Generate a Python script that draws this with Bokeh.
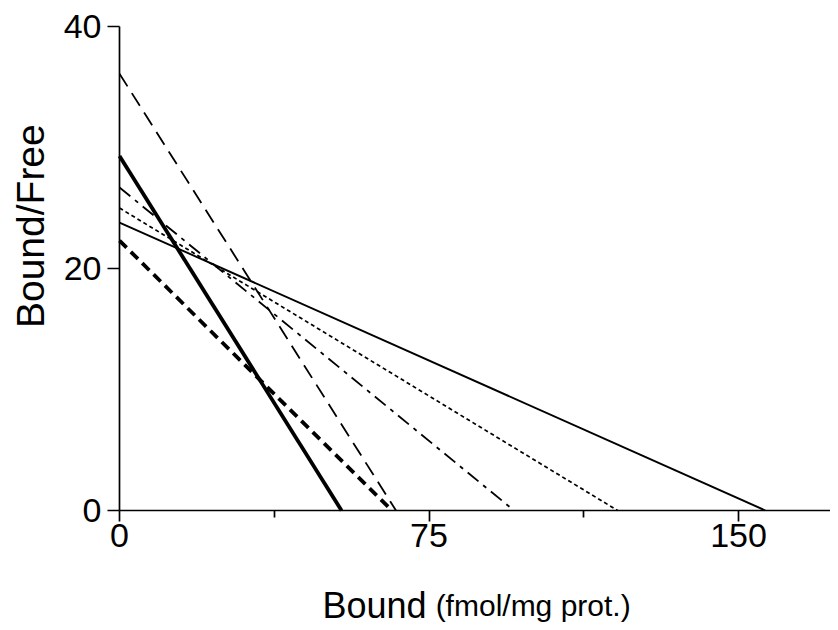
import math
from bokeh.plotting import figure
from bokeh.models import Range1d, FixedTicker, Label, LinearAxis
from bokeh.embed import file_html
from bokeh.resources import INLINE

# Scatchard lines: Bound/Free intercept (y) and Bmax intercept (x)
series = ["thick solid", "long dashed", "thick dashed", "dash-dot", "dotted", "thin solid"]
y_intercepts = [29.3, 36.1, 22.3, 26.7, 25.0, 23.8]
x_intercepts = [53.8, 67.0, 66.0, 95.6, 120.7, 156.5]
x_ticks = [0, 75, 150]
x_minor_ticks = [37.5, 112.5]
y_ticks = [0, 20, 40]

styles = {
    "thick solid": dict(line_width=3.8, line_dash="solid"),
    "long dashed": dict(line_width=1.8, line_dash="15 8"),
    "thick dashed": dict(line_width=3.8, line_dash="10 6"),
    "dash-dot": dict(line_width=1.8, line_dash="14 6 4 6"),
    "dotted": dict(line_width=1.7, line_dash="4 3"),
    "thin solid": dict(line_width=1.9, line_dash="solid"),
}

W, H = 830, 628
X0, Y0 = 119, 510           # pixel position of data origin
SX, SY = 4.127, 12.1        # pixels per data unit
x_rng = Range1d(-X0 / SX, (W - X0) / SX)
y_rng = Range1d(-(H - Y0) / SY, Y0 / SY)

p = figure(width=W, height=H, x_range=x_rng, y_range=y_rng,
           output_backend="svg", toolbar_location=None,
           x_axis_location=None, y_axis_location=None,
           min_border=0, min_border_left=0, min_border_right=0,
           min_border_top=0, min_border_bottom=0)
p.outline_line_color = None
p.xgrid.visible = False
p.ygrid.visible = False
p.background_fill_color = "white"
p.border_fill_color = "white"

for name, yi, xi in zip(series, y_intercepts, x_intercepts):
    p.line(x=[0, xi], y=[yi, 0], line_color="black", **styles[name])

font = "Liberation Sans"

xaxis = LinearAxis(fixed_location=0, bounds=(0, (W - X0) / SX),
                   ticker=FixedTicker(ticks=x_ticks, minor_ticks=x_minor_ticks))
yaxis = LinearAxis(fixed_location=0, bounds=(0, 40),
                   ticker=FixedTicker(ticks=y_ticks, minor_ticks=[]))
for ax in (xaxis, yaxis):
    ax.axis_line_width = 1.7
    ax.axis_line_color = "black"
    ax.major_tick_line_color = "black"
    ax.major_tick_line_width = 1.7
    ax.minor_tick_line_color = "black"
    ax.minor_tick_line_width = 1.7
    ax.major_tick_in = 0
    ax.minor_tick_in = 0
    ax.major_label_text_font = font
    ax.major_label_text_font_size = "34px"
    ax.major_label_text_color = "black"

xaxis.major_tick_out = 11
xaxis.minor_tick_out = 7
xaxis.major_label_standoff = 2
yaxis.major_tick_out = 12
yaxis.minor_tick_out = 0
yaxis.major_label_standoff = 6

p.add_layout(xaxis, "below")
p.add_layout(yaxis, "left")

label_y = -(605 - Y0) / SY
p.add_layout(Label(x=49.2, y=label_y, text="Bound", text_font=font,
                   text_font_size="36px", text_color="black",
                   text_baseline="middle", text_align="left"))
p.add_layout(Label(x=76.6, y=label_y, text="(fmol/mg prot.)", text_font=font,
                   text_font_size="30px", text_color="black",
                   text_baseline="middle", text_align="left"))
p.add_layout(Label(x=-21.6, y=23.5, text="Bound/Free", text_font=font,
                   text_font_size="39px", text_color="black", angle=math.pi / 2,
                   text_baseline="middle", text_align="center"))

open("out.html", "w").write(file_html(p, INLINE))
